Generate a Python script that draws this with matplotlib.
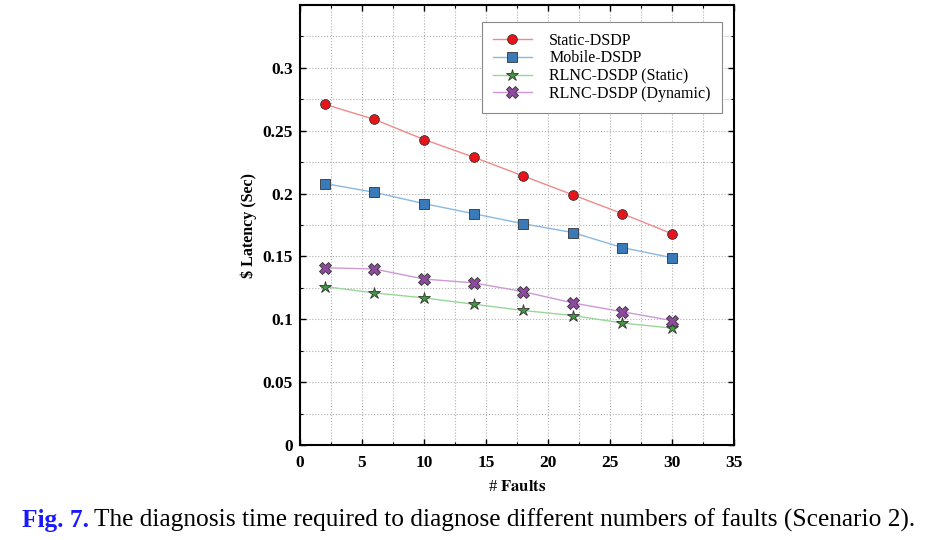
import matplotlib
matplotlib.use("Agg")
import matplotlib.pyplot as plt
from matplotlib.ticker import MultipleLocator

faults = [2, 6, 10, 14, 18, 22, 26, 30]
static_dsdp = [0.271, 0.259, 0.243, 0.229, 0.214, 0.199, 0.184, 0.168]
mobile_dsdp = [0.208, 0.201, 0.192, 0.184, 0.176, 0.169, 0.157, 0.149]
rlnc_static = [0.126, 0.121, 0.117, 0.112, 0.107, 0.103, 0.097, 0.093]
rlnc_dynamic = [0.141, 0.140, 0.132, 0.129, 0.122, 0.113, 0.106, 0.099]
labels = ["Static-DSDP", "Mobile-DSDP", "RLNC-DSDP (Static)", "RLNC-DSDP (Dynamic)"]
x_ticks = [0, 5, 10, 15, 20, 25, 30, 35]
y_ticks = [0, 0.05, 0.1, 0.15, 0.2, 0.25, 0.3]
y_tick_labels = ["0", "0.05", "0.1", "0.15", "0.2", "0.25", "0.3"]

plt.rcParams['font.family'] = ['Liberation Serif', 'DejaVu Serif']
plt.rcParams['mathtext.fontset'] = 'stix'

fig = plt.figure(figsize=(9.27, 5.4), dpi=100)
ax = fig.add_axes([300/927, 95/540, 434/927, 440/540])

series = [
    (static_dsdp, 'o', '#e8141a', '#f08a8a', 7),
    (mobile_dsdp, 's', '#3a7ab8', '#8ab8e0', 7),
    (rlnc_static, '*', '#3f9a3f', '#9ad69a', 9),
    (rlnc_dynamic, 'X', '#8e4a9e', '#cc99d6', 8),
]
for (vals, mk, mc, lc, ms), lab in zip(series, labels):
    ax.plot(faults, vals, color=lc, lw=1.0, marker=mk, markersize=ms,
            markerfacecolor=mc, markeredgecolor='#333333', markeredgewidth=0.6,
            label=lab, zorder=3)

ax.set_xlim(0, 35)
ax.set_ylim(0, 0.35)
ax.set_xticks(x_ticks)
ax.set_xticklabels([str(t) for t in x_ticks])
ax.set_yticks(y_ticks)
ax.set_yticklabels(y_tick_labels)
ax.xaxis.set_minor_locator(MultipleLocator(2.5))
ax.yaxis.set_minor_locator(MultipleLocator(0.025))
ax.grid(True, which='both', linestyle=':', color='#b0b0b0', linewidth=0.8)
ax.set_axisbelow(True)
ax.tick_params(which='both', direction='in', top=True, right=True)
ax.tick_params(which='major', length=4, width=1.0, labelsize=12.5)
ax.tick_params(axis='x', which='major', pad=7)
ax.tick_params(axis='y', which='major', pad=5)
ax.tick_params(which='minor', length=2.5, width=0.8)
for lbl in ax.get_xticklabels() + ax.get_yticklabels():
    lbl.set_fontweight('bold')
for s in ax.spines.values():
    s.set_linewidth(1.5)

ax.set_xlabel(r'# $\mathbf{Faults}$', fontsize=12, labelpad=6)
ax.set_ylabel('\\$ Latency (Sec)', fontsize=11.5, fontweight='bold', labelpad=4)

leg = ax.legend(loc='upper right', bbox_to_anchor=(0.972, 0.962), borderaxespad=0,
                fontsize=11.5, fancybox=False, edgecolor='#888888', framealpha=1,
                handlelength=2.4, labelspacing=0.1, borderpad=0.7, handletextpad=1.1)
leg.get_frame().set_linewidth(0.8)

fig.canvas.draw()
t1 = fig.text(22/927, 20/540, 'Fig. 7.', color='#1a1aff', fontsize=18.3,
              fontweight='bold', ha='left', va='center')
fig.canvas.draw()
bb = t1.get_window_extent()
fig.text((bb.x1 + 5)/927, 20/540,
         'The diagnosis time required to diagnose different numbers of faults (Scenario 2).',
         color='black', fontsize=18.3, ha='left', va='center')

fig.savefig('out.png', dpi=100)
